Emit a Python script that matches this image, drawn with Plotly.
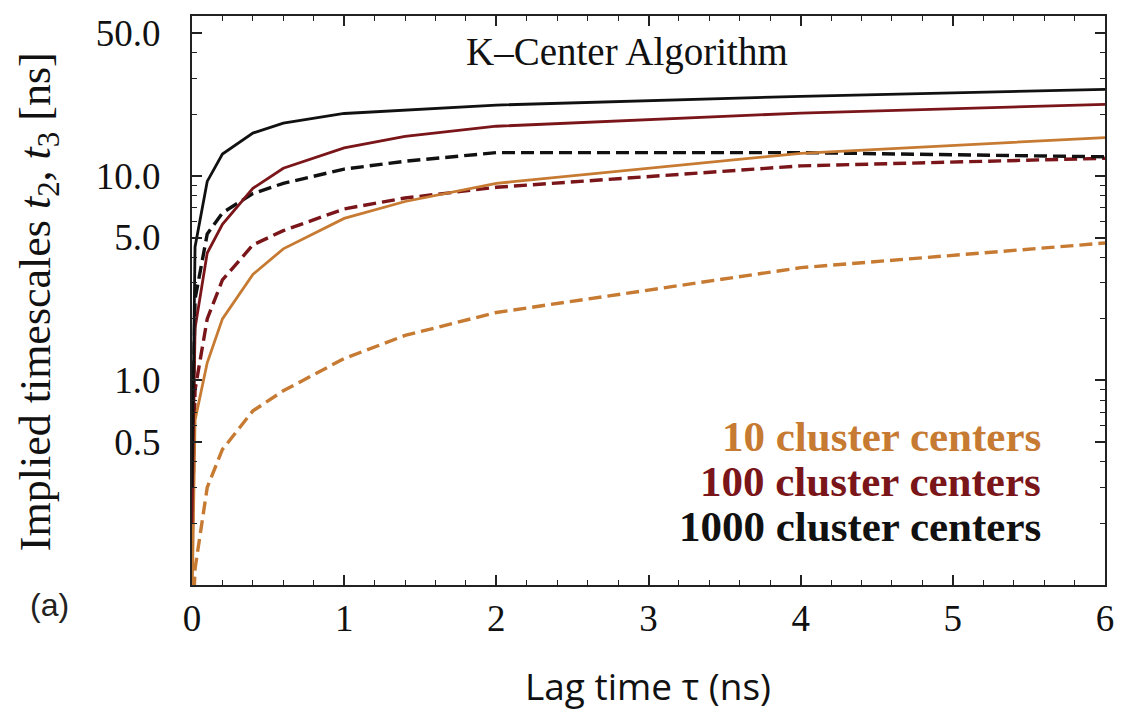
import plotly.graph_objects as go

# Lag times (ns)
lag_time = [0.0, 0.02, 0.1, 0.2, 0.4, 0.6, 1.0, 1.4, 2.0, 4.0, 6.0]

# Implied timescales (ns): t2 = solid, t3 = dashed
t2_1000 = [0.3, 4.5, 9.4, 12.8, 16.2, 18.1, 20.2, 21.0, 22.2, 24.5, 26.5]
t3_1000 = [0.3, 2.5, 5.2, 6.6, 8.2, 9.2, 10.8, 11.8, 13.0, 13.0, 12.4]
t2_100 = [0.2, 1.8, 4.2, 5.8, 8.7, 10.9, 13.7, 15.6, 17.5, 20.3, 22.4]
t3_100 = [0.15, 0.9, 2.0, 3.1, 4.6, 5.4, 6.9, 7.8, 8.8, 11.2, 12.2]
t2_10 = [0.08, 0.64, 1.22, 2.0, 3.3, 4.4, 6.2, 7.5, 9.2, 12.9, 15.4]
t3_10 = [0.05, 0.12, 0.3, 0.46, 0.71, 0.89, 1.28, 1.66, 2.15, 3.56, 4.7]

legend_labels = ["10 cluster centers", "100 cluster centers", "1000 cluster centers"]
y_tickvals = [0.5, 1, 5, 10, 50]
y_ticktext = ["0.5", "1.0", "5.0", "10.0", "50.0"]
y_minor = [0.2, 0.3, 0.4, 0.6, 0.7, 0.8, 0.9, 2, 3, 4, 6, 7, 8, 9, 20, 30, 40]
x_tickvals = [0, 1, 2, 3, 4, 5, 6]

ORANGE = "#C67A32"
RED = "#7A1519"
BLACK = "#111111"

fig = go.Figure()
series = [
    (t3_10, ORANGE, "dash"), (t3_100, RED, "dash"), (t3_1000, BLACK, "dash"),
    (t2_10, ORANGE, "solid"), (t2_100, RED, "solid"), (t2_1000, BLACK, "solid"),
]
for ys, col, dash in series:
    fig.add_trace(go.Scatter(
        x=lag_time, y=ys, mode="lines",
        line=dict(color=col, width=3.4 if dash != "solid" else 2.8,
                  dash="13px,6px" if dash != "solid" else "solid"),
        showlegend=False, hoverinfo="skip"))

serif = "Liberation Serif"

# plot area in page pixels: x 192..1112, y 16..585
PL, PR, PT, PB = 192, 1112, 16, 585
def px(xp):
    return (xp - PL) / (PR - PL)
def py(yp):
    return (PB - yp) / (PB - PT)

fig.update_layout(
    width=1126, height=712,
    margin=dict(l=PL, r=1126 - PR, t=PT, b=712 - PB),
    paper_bgcolor="white", plot_bgcolor="white",
    font=dict(family=serif, color="#111111", size=28),
)
fig.update_xaxes(
    range=[0, 6], tickvals=x_tickvals, ticktext=[str(v) for v in x_tickvals],
    ticks="inside", ticklen=10, tickwidth=1.5, tickcolor="#222",
    minor=dict(dtick=0.2, ticks="inside", ticklen=5, tickwidth=1.2, tickcolor="#222"),
    showline=True, linecolor="#222", linewidth=2, mirror="allticks",
    showgrid=False, zeroline=False,
    tickfont=dict(family=serif, size=37, color="#111"),
    ticklabelstandoff=0,
)
fig.update_yaxes(
    type="log", range=[-1.0, 1.782],
    tickvals=y_tickvals, ticktext=y_ticktext,
    ticks="inside", ticklen=10, tickwidth=1.5, tickcolor="#222",
    minor=dict(tickvals=y_minor, ticks="inside", ticklen=5, tickwidth=1.2, tickcolor="#222"),
    showline=True, linecolor="#222", linewidth=2, mirror="allticks",
    showgrid=False, zeroline=False,
    tickfont=dict(family=serif, size=37, color="#111"),
    ticklabelstandoff=22,
)

# Title inside plot
fig.add_annotation(text="K\u2013Center Algorithm", xref="paper", yref="paper",
                   x=px(630), y=py(52), showarrow=False,
                   xanchor="center", yanchor="middle",
                   font=dict(family=serif, size=39, color="#111"))

# Legend labels
for lab, col, ypix in zip(legend_labels, [ORANGE, RED, BLACK], [436, 481, 526]):
    fig.add_annotation(text="<b>%s</b>" % lab, xref="paper", yref="paper",
                       x=px(1050), y=py(ypix),
                       xanchor="right", yanchor="middle", showarrow=False,
                       font=dict(family=serif, size=43, color=col))

# Y-axis title
fig.add_annotation(text="Implied timescales <i>t</i><sub>2</sub>, <i>t</i><sub>3</sub> [ns]",
                   xref="paper", yref="paper", x=px(38), y=py(302),
                   textangle=-90, showarrow=False, xanchor="center", yanchor="middle",
                   font=dict(family=serif, size=44, color="#111"))

# X-axis title
fig.add_annotation(text="Lag time \u03c4 (ns)", xref="paper", yref="paper",
                   x=px(651), y=py(685), showarrow=False,
                   xanchor="center", yanchor="middle",
                   font=dict(family="Open Sans", size=37, color="#111"))

# Panel label
fig.add_annotation(text="(a)", xref="paper", yref="paper",
                   x=px(48), y=py(605), showarrow=False,
                   xanchor="center", yanchor="middle",
                   font=dict(family="Liberation Sans", size=32, color="#222"))

fig.write_html("out.html", config={"displayModeBar": False},
               post_script="document.body.style.margin='0px';document.body.style.padding='0px';")
